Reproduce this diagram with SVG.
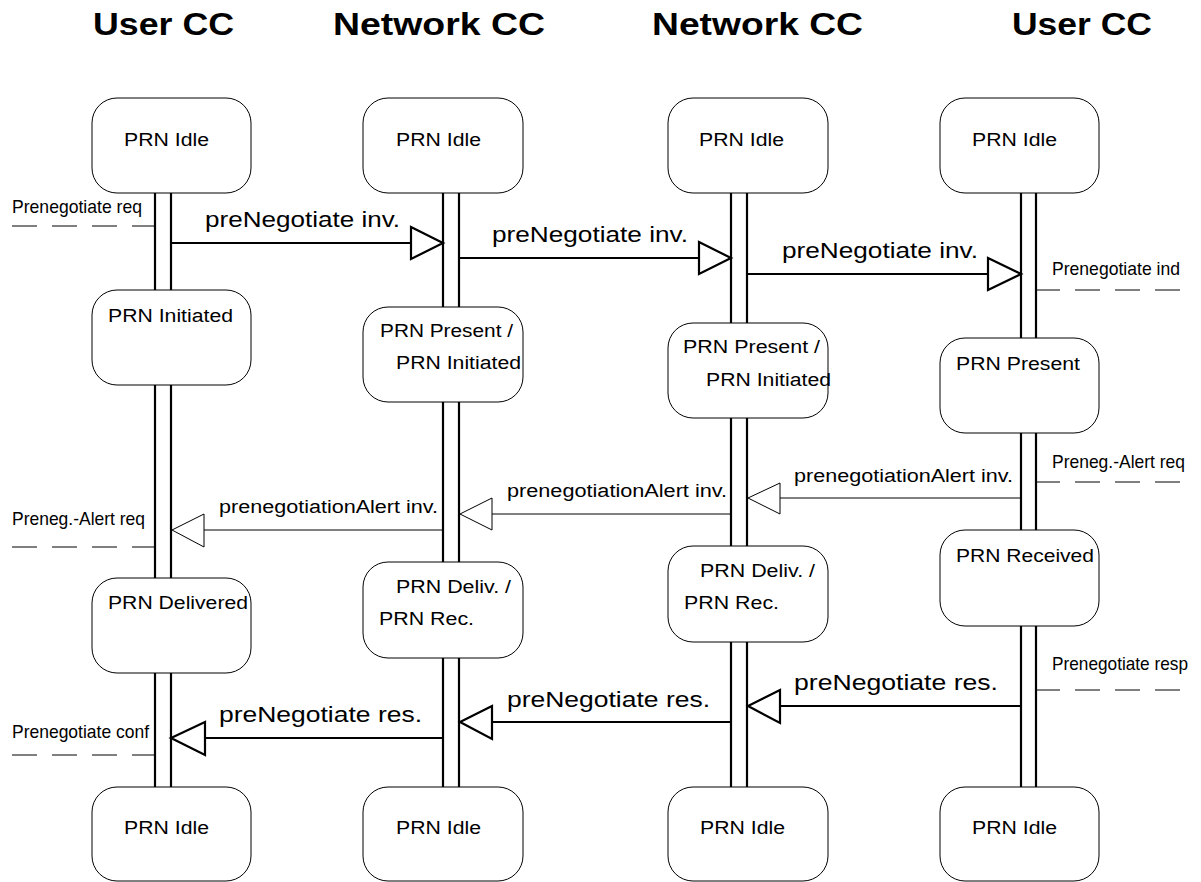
<svg xmlns="http://www.w3.org/2000/svg" width="1201" height="882" viewBox="0 0 1201 882">
<style>
.box{fill:#fff;stroke:#000;stroke-width:1}
.life{stroke:#000;stroke-width:2.2;fill:none}
.thick{stroke:#000;stroke-width:2.2;fill:none}
.thin{stroke:#000;stroke-width:1;fill:none}
.headT{fill:#fff;stroke:#000;stroke-width:2.2;stroke-linejoin:miter}
.headt{fill:#fff;stroke:#000;stroke-width:1}
.dash{stroke:#000;stroke-width:1;fill:none;stroke-dasharray:25 15}
text{font-family:"Liberation Sans",Arial,sans-serif;fill:#000}
.title{font-size:31px;font-weight:bold}
.st{font-size:18px}
.msg{font-size:22px}
.al{font-size:18px}
.nar{font-family:"Liberation Sans Narrow","Liberation Sans",Arial,sans-serif;font-size:19px}
</style>
<rect width="1201" height="882" fill="#fff"/>
<g id="titles">
<text class="title" x="93" y="35" textLength="141" lengthAdjust="spacingAndGlyphs">User CC</text>
<text class="title" x="333" y="35" textLength="212" lengthAdjust="spacingAndGlyphs">Network CC</text>
<text class="title" x="652" y="35" textLength="211" lengthAdjust="spacingAndGlyphs">Network CC</text>
<text class="title" x="1012" y="35" textLength="140" lengthAdjust="spacingAndGlyphs">User CC</text>
</g>
<g id="lifelines">
<path class="life" d="M155 193V290M171 193V290M155 385V578M171 385V578M155 673V787M171 673V787"/>
<path class="life" d="M443 193V307M459 193V307M443 402V562M459 402V562M443 658V787M459 658V787"/>
<path class="life" d="M731 193V323M747 193V323M731 418V546M747 418V546M731 642V787M747 642V787"/>
<path class="life" d="M1021 193V338M1036 193V338M1021 433V530M1036 433V530M1021 626V787M1036 626V787"/>
</g>
<g id="col1">
<g id="n1a"><rect class="box" x="92" y="98" width="159" height="95" rx="25"/><text class="st" x="124" y="146" textLength="85" lengthAdjust="spacingAndGlyphs">PRN Idle</text></g>
<g id="n1b"><rect class="box" x="92" y="290" width="159" height="95" rx="25"/><text class="st" x="108" y="322" textLength="125" lengthAdjust="spacingAndGlyphs">PRN Initiated</text></g>
<g id="n1c"><rect class="box" x="92" y="578" width="159" height="95" rx="25"/><text class="st" x="108" y="609" textLength="140" lengthAdjust="spacingAndGlyphs">PRN Delivered</text></g>
<g id="n1d"><rect class="box" x="92" y="787" width="159" height="94" rx="25"/><text class="st" x="124" y="834" textLength="85" lengthAdjust="spacingAndGlyphs">PRN Idle</text></g>
</g>
<g id="col2">
<g id="n2a"><rect class="box" x="363" y="98" width="160" height="95" rx="25"/><text class="st" x="396" y="146" textLength="85" lengthAdjust="spacingAndGlyphs">PRN Idle</text></g>
<g id="n2b"><rect class="box" x="363" y="307" width="160" height="95" rx="25"/><text class="st" x="380" y="337" textLength="133" lengthAdjust="spacingAndGlyphs">PRN Present /</text><text class="st" x="396" y="369" textLength="125" lengthAdjust="spacingAndGlyphs">PRN Initiated</text></g>
<g id="n2c"><rect class="box" x="363" y="562" width="160" height="96" rx="25"/><text class="st" x="396" y="593" textLength="115" lengthAdjust="spacingAndGlyphs">PRN Deliv. /</text><text class="st" x="379" y="625" textLength="95" lengthAdjust="spacingAndGlyphs">PRN Rec.</text></g>
<g id="n2d"><rect class="box" x="363" y="787" width="160" height="94" rx="25"/><text class="st" x="396" y="834" textLength="85" lengthAdjust="spacingAndGlyphs">PRN Idle</text></g>
</g>
<g id="col3">
<g id="n3a"><rect class="box" x="668" y="98" width="160" height="95" rx="25"/><text class="st" x="699" y="146" textLength="85" lengthAdjust="spacingAndGlyphs">PRN Idle</text></g>
<g id="n3b"><rect class="box" x="668" y="323" width="160" height="95" rx="25"/><text class="st" x="683" y="353" textLength="137" lengthAdjust="spacingAndGlyphs">PRN Present /</text><text class="st" x="706" y="386" textLength="125" lengthAdjust="spacingAndGlyphs">PRN Initiated</text></g>
<g id="n3c"><rect class="box" x="668" y="546" width="160" height="96" rx="25"/><text class="st" x="700" y="577" textLength="115" lengthAdjust="spacingAndGlyphs">PRN Deliv. /</text><text class="st" x="684" y="609" textLength="95" lengthAdjust="spacingAndGlyphs">PRN Rec.</text></g>
<g id="n3d"><rect class="box" x="668" y="787" width="160" height="94" rx="25"/><text class="st" x="700" y="834" textLength="85" lengthAdjust="spacingAndGlyphs">PRN Idle</text></g>
</g>
<g id="col4">
<g id="n4a"><rect class="box" x="940" y="98" width="159" height="95" rx="25"/><text class="st" x="972" y="146" textLength="85" lengthAdjust="spacingAndGlyphs">PRN Idle</text></g>
<g id="n4b"><rect class="box" x="940" y="338" width="159" height="95" rx="25"/><text class="st" x="956" y="370" textLength="124" lengthAdjust="spacingAndGlyphs">PRN Present</text></g>
<g id="n4c"><rect class="box" x="940" y="530" width="159" height="96" rx="25"/><text class="st" x="956" y="562" textLength="138" lengthAdjust="spacingAndGlyphs">PRN Received</text></g>
<g id="n4d"><rect class="box" x="940" y="787" width="159" height="94" rx="25"/><text class="st" x="972" y="834" textLength="85" lengthAdjust="spacingAndGlyphs">PRN Idle</text></g>
</g>
<g id="connectors">
<path class="thick" d="M171 243H411"/><polygon class="headT" points="411,227 443,243 411,259"/>
<text class="msg" x="205" y="227" textLength="195" lengthAdjust="spacingAndGlyphs">preNegotiate inv.</text>
<path class="thick" d="M459 258H699"/><polygon class="headT" points="699,242 731,258 699,274"/>
<text class="msg" x="492" y="242" textLength="196" lengthAdjust="spacingAndGlyphs">preNegotiate inv.</text>
<path class="thick" d="M747 274H988"/><polygon class="headT" points="988,258 1021,274 988,290"/>
<text class="msg" x="782" y="258" textLength="196" lengthAdjust="spacingAndGlyphs">preNegotiate inv.</text>
<path class="thin" d="M1021 498H780"/><polygon class="headt" points="780,483 748,498 780,514"/>
<text class="al" x="794" y="482" textLength="219" lengthAdjust="spacingAndGlyphs">prenegotiationAlert inv.</text>
<path class="thin" d="M731 514H492"/><polygon class="headt" points="492,498 460,514 492,530"/>
<text class="al" x="507" y="497" textLength="220" lengthAdjust="spacingAndGlyphs">prenegotiationAlert inv.</text>
<path class="thin" d="M443 530H204"/><polygon class="headt" points="204,514 172,530 204,547"/>
<text class="al" x="219" y="513" textLength="219" lengthAdjust="spacingAndGlyphs">prenegotiationAlert inv.</text>
<path class="thick" d="M1021 706H780"/><polygon class="headT" points="780,690 748,706 780,723"/>
<text class="msg" x="794" y="690" textLength="204" lengthAdjust="spacingAndGlyphs">preNegotiate res.</text>
<path class="thick" d="M731 722H492"/><polygon class="headT" points="492,706 460,722 492,739"/>
<text class="msg" x="507" y="707" textLength="203" lengthAdjust="spacingAndGlyphs">preNegotiate res.</text>
<path class="thick" d="M443 738H205"/><polygon class="headT" points="205,722 171,738 205,755"/>
<text class="msg" x="219" y="722" textLength="203" lengthAdjust="spacingAndGlyphs">preNegotiate res.</text>
</g>
<g id="primitives">
<path class="dash" d="M12 226H155"/>
<text class="nar" x="12" y="213" textLength="130" lengthAdjust="spacingAndGlyphs">Prenegotiate req</text>
<path class="dash" d="M1180 290H1036"/>
<text class="nar" x="1052" y="275" textLength="128" lengthAdjust="spacingAndGlyphs">Prenegotiate ind</text>
<path class="dash" d="M1180 482H1036"/>
<text class="nar" x="1052" y="468" textLength="133" lengthAdjust="spacingAndGlyphs">Preneg.-Alert req</text>
<path class="dash" d="M12 547H155"/>
<text class="nar" x="12" y="525" textLength="133" lengthAdjust="spacingAndGlyphs">Preneg.-Alert req</text>
<path class="dash" d="M1180 690H1036"/>
<text class="nar" x="1052" y="670" textLength="136" lengthAdjust="spacingAndGlyphs">Prenegotiate resp</text>
<path class="dash" d="M12 755H155"/>
<text class="nar" x="12" y="738" textLength="137" lengthAdjust="spacingAndGlyphs">Prenegotiate conf</text>
</g>
</svg>
